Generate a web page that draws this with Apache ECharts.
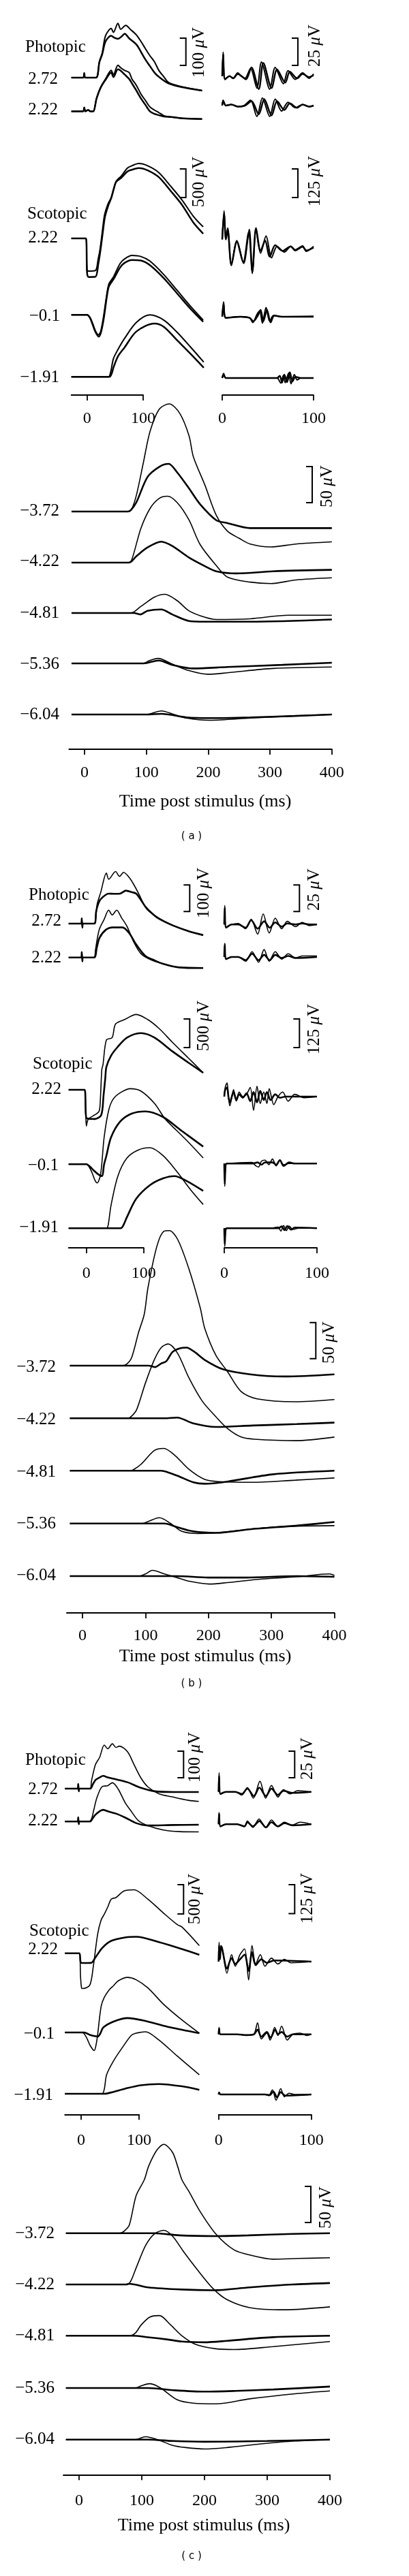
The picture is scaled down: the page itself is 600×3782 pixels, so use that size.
<!DOCTYPE html>
<html>
<head>
<meta charset="utf-8">
<title>ERG traces</title>
<script src="https://cdn.jsdelivr.net/npm/echarts@6.0.0/dist/echarts.min.js"></script>
<style>
  html, body { margin: 0; padding: 0; background: #fff; }
  #main { width: 600px; height: 3782px; }
</style>
</head>
<body>
<div id="main"></div>
<script>
// ---- labels and ticks ----
var PHOT_LEVELS = ['2.72', '2.22'];
var SCOT_LEVELS = ['2.22', '\u22120.1', '\u22121.91'];
var DIM_LEVELS = ['\u22123.72', '\u22124.22', '\u22124.81', '\u22125.36', '\u22126.04'];
var SHORT_TICKS = [0, 100];
var DIM_TICKS = [0, 100, 200, 300, 400];
var PANEL_TAGS = ['( a )', '( b )', '( c )'];
var BAR_UV = { phot: 100, photOp: 25, scot: 500, scotOp: 125, dim: 50 };

// ---- traces: [time ms, amplitude uV], each row = [thin, thick] ----
// panel (a)
var A_PHOT = [
  [[[-28,0],[-7,0],[-5,18],[-3,0],[16,0],[22,62],[27,95],[33,162],[43,190],[47,175],[55,210],[60,187],[69,202],[78,185],[88,165],[96,140],[104,112],[112,85],[120,62],[128,28],[137,3],[145,-18],[160,-30],[180,-40],[205,-50]],
   [[-28,0],[-7,0],[-5,18],[-3,0],[16,0],[22,60],[27,90],[33,140],[43,162],[48,155],[55,150],[62,160],[67,170],[75,152],[88,128],[96,100],[104,70],[112,45],[120,20],[128,3],[145,-22],[170,-37],[205,-50]]],
  [[[-28,0],[-7,0],[-5,15],[-3,0],[2,5],[6,0],[11,0],[17,50],[24,92],[33,125],[43,158],[47,142],[55,178],[60,168],[67,158],[75,150],[80,125],[88,100],[96,67],[104,42],[112,17],[120,5],[128,-5],[137,-17],[150,-22],[170,-27],[205,-30]],
   [[-28,0],[-7,0],[-5,15],[-3,0],[2,5],[6,0],[11,0],[17,50],[24,90],[33,122],[43,150],[47,132],[55,162],[60,157],[67,142],[75,125],[80,108],[88,80],[96,50],[104,25],[112,0],[120,-10],[128,-15],[137,-20],[150,-22],[170,-27],[205,-30]]]
];
var A_PHOT_OP = [
  [[[0,0],[1,22],[3,-3],[8,0],[12,-2],[17,3],[21,0],[25,-2],[31,7],[38,-11],[43,13],[52,-12],[58,8],[67,-7],[72,5],[80,-3],[88,3],[95,-2],[100,2]],
   [[0,0],[1,20],[3,-3],[8,0],[12,-2],[17,2],[21,0],[26,-3],[32,8],[40,-12],[45,12],[54,-11],[60,6],[69,-6],[74,4],[82,-2],[88,2],[95,-1],[100,1]]],
  [[[0,0],[1,5],[4,0],[10,1],[17,-1],[24,0],[31,5],[38,-10],[44,7],[52,-10],[58,6],[65,-5],[72,3],[80,-2],[88,1],[95,-1],[100,0]],
   [[0,0],[1,4],[4,0],[10,1],[17,-1],[25,0],[32,4],[40,-8],[46,6],[54,-9],[60,4],[68,-4],[74,2],[82,-2],[88,1],[95,-1],[100,0]]]
];
var A_SCOT = [
  [[[-28,0],[-2,0],[0,-560],[3,-570],[15,-560],[20,-350],[23,-200],[27,100],[31,400],[37,595],[43,714],[47,853],[52,1000],[61,1091],[72,1229],[80,1270],[92,1309],[108,1270],[128,1150],[149,913],[169,675],[190,380],[207,202]],
   [[-28,0],[-2,0],[0,-600],[3,-675],[15,-670],[20,-450],[24,-200],[28,100],[32,380],[38,580],[43,700],[47,840],[52,990],[61,1060],[72,1170],[80,1200],[92,1230],[108,1190],[128,1070],[149,830],[169,590],[190,270],[207,83]]],
  [[[-28,0],[0,0],[5,-40],[10,-150],[15,-280],[20,-350],[24,-300],[29,-52],[35,345],[39,543],[47,662],[59,900],[67,979],[80,1039],[96,1020],[112,940],[137,702],[161,424],[185,146],[207,-90]],
   [[-28,0],[0,0],[5,-50],[10,-170],[15,-300],[21,-380],[25,-300],[30,-52],[35,300],[39,500],[47,620],[59,830],[67,910],[80,960],[96,950],[112,870],[137,640],[161,370],[185,100],[207,-120]]],
  [[[-28,0],[38,0],[42,80],[47,317],[55,476],[67,674],[88,952],[112,1083],[137,991],[161,774],[185,515],[208,257]],
   [[-28,0],[40,0],[44,60],[47,160],[55,357],[67,516],[88,794],[120,932],[137,874],[161,635],[185,397],[208,159]]]
];
var A_SCOT_OP = [
  [[[0,40],[2,165],[4,50],[6,90],[10,-74],[16,35],[23.5,-65],[29.6,84],[33,-109],[37,79],[42,-20],[48,55],[54,-40],[60,10],[68,-15],[75,10],[80,-5],[88,12],[92,-12],[100,10]],
   [[0,40],[2,150],[4,40],[6,80],[10,-70],[16,30],[23,-60],[29,70],[33,-100],[37,90],[42,-10],[47,35],[52,-35],[58,15],[66,-10],[75,10],[80,-8],[88,8],[92,-8],[100,5]]],
  [[[0,0],[1.5,65],[4,-5],[20,0],[30,-5],[33.5,-25],[38,10],[41,25],[44,-28],[48,40],[52,-20],[56,5],[65,0],[100,2]],
   [[0,0],[1.5,55],[4,-5],[20,0],[30,-5],[34,-20],[39,5],[42,30],[45,-20],[49,30],[53,-25],[57,5],[65,0],[100,0]]],
  [[[0,0],[1.5,20],[4,0],[30,0],[60,0],[64,-22],[67,12],[69,-20],[72.8,22],[75.3,-25],[79,15],[82,-8],[86,0],[100,0]],
   [[0,0],[1.5,15],[4,0],[30,0],[60,0],[63,10],[65.5,-20],[68,15],[71,-18],[74,25],[77,-15],[80,5],[86,0],[100,0]]]
];
var A_DIM = [
  [[[-21,0],[70,0],[76,3],[84,23],[95,67],[106,111],[121,142],[137,149],[154,136],[169,105],[176,76],[195,36],[213,-5],[231,-27],[250,-37],[268,-45],[301,-49],[342,-45],[400,-42]],
   [[-21,0],[70,0],[75,2],[84,13],[102,48],[121,62],[136,66],[150,54],[169,32],[187,10],[213,-12],[231,-16],[268,-23],[400,-23]]],
  [[[-21,0],[70,0],[76,3],[91,47],[106,75],[121,89],[134,92],[150,83],[169,59],[187,25],[213,-4],[231,-20],[268,-27],[301,-29],[342,-24],[400,-21]],
   [[-21,0],[72,0],[84,9],[102,21],[124,29],[142,23],[169,7],[195,-5],[213,-12],[246,-15],[305,-12],[400,-10]]],
  [[[-21,0],[75,0],[91,9],[113,22],[130,26],[150,17],[169,3],[195,-6],[213,-9],[268,-8],[330,-3],[400,-3]],
   [[-21,0],[80,0],[90,-2],[102,3],[124,5],[142,-2],[169,-11],[195,-12],[268,-12],[400,-9]]],
  [[[-21,0],[95,0],[105,4],[119,7],[142,-1],[169,-10],[199,-15],[231,-13],[305,-7],[400,-5]],
   [[-21,0],[95,0],[120,4],[142,-2],[176,-7],[231,-5],[320,-2],[400,1]]],
  [[[-21,0],[100,0],[124,5],[145,0],[165,-5],[202,-8],[268,-5],[340,-2],[400,0]],
   [[-21,0],[100,0],[124,1],[165,-4],[202,-5],[268,-4],[340,-2],[400,0]]]
];

// panel (b)
var B_PHOT = [
  [[[-31,0],[-9,0],[-8,20],[-7,-15],[-6,0],[13,0],[19,75],[25,117],[35,190],[39,167],[51,196],[58,178],[65,193],[75,173],[82,150],[92,110],[103,62],[110,45],[127,20],[150,-6],[178,-28],[204,-45]],
   [[-31,0],[-9,0],[-8,20],[-7,-15],[-6,0],[14,0],[17,45],[20,70],[25,92],[39,113],[50,112],[59,113],[69,124],[80,118],[87,113],[95,90],[103,64],[115,38],[127,18],[150,-6],[178,-28],[204,-43]]],
  [[[-31,0],[-9,0],[-8,20],[-7,-15],[-6,0],[13,0],[16,30],[19,70],[23,108],[31,143],[39,178],[45,160],[53,178],[61,151],[71,117],[83,57],[95,15],[111,-7],[134,-24],[160,-37],[204,-40]],
   [[-31,0],[-9,0],[-8,20],[-7,-15],[-6,0],[14,0],[18,35],[23,74],[34,104],[46,113],[63,113],[75,91],[87,49],[103,6],[119,-11],[134,-24],[160,-37],[204,-40]]]
];
var B_PHOT_OP = [
  [[[0,0],[0.5,18],[2,-3],[8,0],[15,1],[23,-4],[29,5],[36,-9],[42,10],[48.5,-8],[55,6],[62,-4],[68,3],[77,-2],[84,2],[92,-1],[100,0]],
   [[0,0],[0.5,16],[2,-3],[8,0],[15,0],[23,-3],[29,4],[36,-4],[43,3],[49,-3],[55,2],[62,-2],[68,1],[77,0],[84,1],[92,0],[100,0]]],
  [[[0,0],[0.5,13],[2,-2],[8,0],[15,0],[23,-4],[30,5],[37,-5],[43,7],[48.5,-4],[55,5],[62,-2],[69,3],[77,-1],[84,1],[100,1]],
   [[0,0],[0.5,12],[2,-2],[8,0],[15,0],[23,-3],[30,3],[37,-3],[43,2],[49,-3],[55,2],[62,-1],[69,1],[77,-1],[100,0]]]
];
var B_SCOT = [
  [[[-31,0],[-3,0],[-1,-450],[0,-635],[2,-540],[5,-496],[15,-437],[22,-380],[24,-250],[27,357],[29,437],[35,872],[45,912],[51,1151],[67,1229],[87,1317],[107,1229],[127,1071],[150,833],[178,556],[204,298]],
   [[-31,0],[-3,0],[-1,-420],[1,-500],[15,-510],[26,-440],[30,-100],[33,200],[35,400],[43,595],[55,753],[71,912],[95,991],[119,912],[150,674],[178,476],[204,298]]],
  [[[-31,0],[0,0],[5,-50],[10,-150],[15,-280],[19,-326],[25,-167],[31,468],[39,944],[47,1142],[61,1261],[77,1321],[95,1280],[119,1063],[138,785],[158,587],[178,388],[204,111]],
   [[-31,0],[0,0],[5,-30],[12,-100],[20,-170],[27,-206],[31,0],[35,150],[43,468],[59,745],[79,884],[103,924],[134,825],[166,587],[204,309]]],
  [[[-31,0],[35,0],[38,50],[43,396],[55,912],[71,1229],[91,1369],[111,1408],[134,1269],[158,991],[182,674],[204,416]],
   [[-31,0],[60,0],[64,40],[71,198],[87,515],[111,753],[134,872],[154,912],[174,833],[204,654]]]
];
var B_SCOT_OP = [
  [[[0,0],[1,40],[3,60],[4.5,0],[6,-40],[10,30],[13,-20],[16,20],[20,0],[24,10],[28,40],[31.6,-60],[35.3,45],[38.8,-30],[42.6,20],[46,-30],[48.5,35],[53.4,-35],[58,0],[63,20],[69,-20],[76,10],[86,-5],[100,0]],
   [[0,0],[1,30],[3,40],[4.5,0],[6,-25],[10,20],[13,-15],[16,10],[20,-5],[24,15],[28,-20],[31.6,20],[35.3,-25],[38.8,25],[42.6,-15],[46,20],[50,-15],[55,10],[60,-5],[66,0],[100,0]]],
  [[[0,0],[0.5,-100],[1.5,-5],[3,0],[30,5],[34,-10],[37,-15],[40,10],[44,15],[48,-5],[52,20],[56,-10],[60,15],[64,-5],[70,0],[100,0]],
   [[0,0],[0.5,-90],[1.5,-5],[3,0],[30,0],[36,5],[40,-5],[44,5],[52,5],[56,-5],[60,15],[64,-10],[70,5],[76,0],[100,0]]],
  [[[0,0],[0.5,-80],[1.5,-5],[3,0],[50,0],[58,5],[61,-12],[64,12],[67,-10],[70,10],[74,-5],[80,0],[100,0]],
   [[0,0],[0.5,-70],[1.5,-5],[3,0],[50,0],[58,0],[62,8],[65,-8],[68,10],[72,-6],[76,3],[100,0]]]
];
var B_DIM = [
  [[[-20,0],[62,0],[70,2],[78,11],[89,46],[98,71],[104,108],[118,165],[129,186],[138,187],[151,175],[169,134],[187,80],[194,52],[212,14],[230,-8],[252,-36],[277,-46],[338,-50],[400,-47]],
   [[-20,0],[105,0],[115,-2],[125,3],[133,6],[143,19],[155,24],[165,25],[178,19],[194,8],[223,-5],[266,-12],[320,-15],[400,-12]]],
  [[[-20,0],[72,0],[78,3],[86,12],[100,49],[114,81],[125,98],[136,103],[151,90],[169,56],[190,24],[212,2],[230,-14],[252,-26],[273,-29],[338,-31],[400,-26]],
   [[-20,0],[130,0],[150,1],[176,-7],[212,-12],[270,-10],[340,-8],[400,-6]]],
  [[[-20,0],[75,0],[80,1],[93,9],[114,28],[129,31],[147,21],[169,2],[194,-12],[216,-15],[270,-16],[338,-13],[400,-10]],
   [[-20,0],[125,0],[135,-2],[151,-7],[176,-16],[194,-18],[230,-15],[302,-5],[400,0]]],
  [[[-20,0],[95,0],[105,3],[122,8],[140,0],[158,-11],[183,-14],[212,-13],[302,-5],[400,-3]],
   [[-20,0],[130,0],[150,-5],[176,-11],[212,-13],[266,-8],[340,-3],[400,2]]],
  [[[-20,0],[90,0],[100,3],[111,8],[130,3],[150,-2],[169,-7],[201,-11],[230,-9],[285,-4],[340,-1],[392,3],[400,1]],
   [[-20,0],[150,0],[200,-2],[260,-2],[340,0],[400,-1]]]
];

// panel (c)
var C_PHOT = [
  [[[-28,0],[-6,0],[-5,18],[-4,-10],[-3,0],[15,0],[18,30],[21,60],[25,92],[32,118],[40,164],[46,150],[54,169],[60,155],[66,160],[80,139],[91,92],[103,41],[115,7],[134,-19],[157,-31],[185,-44],[203,-48]],
   [[-28,0],[-6,0],[-5,18],[-4,-10],[-3,0],[16,0],[20,15],[25,33],[32,42],[38,48],[46,42],[56,37],[80,24],[103,3],[127,-10],[160,-13],[203,-13]]],
  [[[-28,0],[-6,0],[-5,16],[-4,-10],[-3,0],[14,0],[18,10],[22,45],[27,88],[36,131],[46,135],[54,146],[64,122],[76,71],[87,37],[99,3],[115,-15],[142,-32],[170,-38],[203,-39]],
   [[-28,0],[-6,0],[-5,16],[-4,-10],[-3,0],[15,0],[20,12],[24,24],[31,37],[38,44],[48,37],[60,30],[76,15],[95,-6],[115,-15],[160,-13],[203,-12]]]
];
var C_PHOT_OP = [
  [[[0,0],[0.5,18],[2,-2],[8,0],[18,0],[25,-3],[31,4],[37.5,-6],[44.6,10],[50.7,-6],[57,6],[64,-5],[70,2],[77,-2],[85,1],[100,0]],
   [[0,0],[0.5,15],[2,-2],[8,0],[18,0],[25,-2],[31,3],[38,-4],[44,4],[51,-4],[57,3],[64,-3],[70,1],[80,-1],[100,0]]],
  [[[0,0],[0.5,11],[2,-2],[8,0],[20,0],[28,-2],[31,3],[37,-3],[43.6,5],[50.7,-3],[57,4],[64,-2],[71,2],[79,-1],[88,2],[100,0]],
   [[0,0],[0.5,10],[2,-2],[8,0],[20,0],[28,-2],[31,2],[37,-2],[44,3],[51,-3],[57,2],[64,-2],[71,1],[80,-1],[100,0]]]
];
var C_SCOT = [
  [[[-28,0],[-3,0],[-1,-400],[1,-600],[3,-603],[15,-543],[21,-226],[28.6,330],[34.5,567],[40,666],[46,790],[52,925],[60,950],[74,1064],[91,1083],[115,925],[142,687],[166,488],[174,449],[204,131]],
   [[-28,0],[-3,0],[-1,-150],[2,-167],[17,-165],[25,-67],[36.5,92],[52,211],[76,270],[95,282],[134,190],[174,71],[204,-27]]],
  [[[-28,0],[0,0],[5,-20],[10,-100],[16,-230],[22.7,-309],[26,-200],[28.6,-30],[34.5,444],[40,600],[48,722],[56,800],[64,881],[80,940],[95,900],[115,762],[142,484],[170,246],[204,-12]],
   [[-28,0],[5,0],[15,-40],[25,-65],[29,-71],[33,-20],[38.4,87],[56,187],[80,246],[115,187],[154,87],[204,-12]]],
  [[[-28,0],[36,0],[40,80],[44,325],[56,563],[72,801],[87,1000],[97,1039],[111,1059],[134,920],[166,643],[204,325]],
   [[-28,0],[40,0],[55,30],[76,87],[103,146],[134,166],[174,127],[204,67]]]
];
var C_SCOT_OP = [
  [[[0,0],[0.5,84],[1.5,20],[2.5,70],[4,60],[9,-50],[14,30],[18,-20],[23,30],[28,55],[32.4,-79],[36,70],[40,-10],[45,30],[50,-20],[57,15],[64,-10],[71,10],[78,-5],[100,0]],
   [[0,0],[0.5,70],[1.5,10],[2.5,60],[4,50],[9,-30],[14,15],[18,-10],[23,10],[28,30],[32.4,-40],[36,40],[40,-15],[46,10],[52,-5],[60,5],[100,0]]],
  [[[0,0],[0.5,30],[2,0],[20,0],[30,-5],[38,0],[42,50],[46,-20],[52,5],[55.6,-25],[60.5,30],[64,-5],[68,35],[74,-25],[80,0],[88,5],[95,-5],[100,0]],
   [[0,0],[0.5,25],[2,0],[20,0],[30,-3],[38,0],[42,20],[46,-10],[52,10],[56,-15],[61,20],[64,0],[68,10],[74,-10],[80,0],[100,0]]],
  [[[0,0],[0.5,10],[2,0],[50,0],[54,-5],[58,20],[62,-25],[67,25],[71,-10],[76,5],[82,0],[100,0]],
   [[0,0],[0.5,8],[2,0],[50,0],[55,-3],[59,12],[63,-12],[67,10],[72,-5],[100,0]]]
];
var C_DIM = [
  [[[-21,0],[65,0],[72,3],[80,11],[91,52],[104,74],[111,93],[124,115],[135,123],[149,112],[157,93],[164,74],[175,58],[193,30],[218,-1],[247,-23],[276,-31],[309,-36],[350,-35],[400,-34]],
   [[-21,0],[120,0],[160,-3],[218,-4],[270,-3],[340,-1],[400,0]]],
  [[[-21,0],[75,0],[82,4],[91,23],[106,54],[120,70],[135,75],[149,67],[167,45],[189,20],[214,-6],[236,-21],[272,-32],[327,-35],[400,-31]],
   [[-21,0],[75,0],[80,1],[110,-4],[164,-7],[214,-8],[272,-4],[340,0],[400,2]]],
  [[[-21,0],[80,0],[90,4],[99,15],[113,26],[128,28],[146,15],[164,0],[186,-12],[218,-18],[247,-19],[309,-15],[400,-8]],
   [[-21,0],[85,0],[110,-2],[140,-5],[164,-8],[200,-9],[236,-7],[309,-2],[400,0]]],
  [[[-21,0],[90,0],[99,3],[113,6],[130,0],[156,-16],[182,-21],[218,-22],[272,-15],[344,-8],[400,-4]],
   [[-21,0],[110,0],[150,-3],[200,-5],[250,-4],[310,-2],[400,2]]],
  [[[-21,0],[90,0],[106,4],[125,0],[149,-8],[170,-11],[200,-13],[236,-11],[290,-6],[345,-2],[400,0]],
   [[-21,0],[110,0],[150,-2],[200,-3],[300,-2],[400,0]]]
];

// ---- page layout (pixels) ----
var LAYOUT = [
  { data: [A_PHOT, A_PHOT_OP, A_SCOT, A_SCOT_OP, A_DIM], w: [2.0, 2.5], dimW: [1.6, 2.6],
    l: { x0: 127.7, k: 0.823, t0: -28, t1: 207 }, op: { x0: 326, k: 1.34 },
    phot: { base: [108, 160], s: 0.4 }, photOp: { base: [111.7, 155], s: 1.6 },
    scot: { base: [350, 462.3, 553.3], s: 0.084, axis: 580, margin: 23 }, scotOp: { base: [365, 465, 555], s: 0.336 },
    dim: { x0: 124, k: 0.907, base: [751, 826, 900, 974, 1049], s: 1.06, axis: 1100, margin: 23 },
    bars: { phot: [272.7, 56], photOp: [437, 56], scot: [272.7, 248], scotOp: [437, 248], dim: [458, 685] },
    barText: { phot: [292, 77], photOp: [462, 67], scot: [292, 267], scotOp: [462, 266], dim: [480, 714] },
    photTitle: [37, 69], photLab: [85, [116, 161]], scotTitle: [40, 314], scotLab: [[85, 88, 87], [349, 464, 554]],
    dimLab: [87, [750, 824, 900, 975, 1049]], title: [301, 1177], tag: [281, 1228] },
  { data: [B_PHOT, B_PHOT_OP, B_SCOT, B_SCOT_OP, B_DIM], w: [1.6, 2.6], dimW: [1.6, 2.6],
    l: { x0: 126.7, k: 0.84, t0: -31, t1: 204 }, op: { x0: 329, k: 1.36 },
    phot: { base: [1356, 1405.7], s: 0.39 }, photOp: { base: [1357.3, 1405], s: 1.56 },
    scot: { base: [1600, 1709.3, 1803.3], s: 0.084, axis: 1832, margin: 26 }, scotOp: { base: [1610, 1708.3, 1803.3], s: 0.336 },
    dim: { x0: 121, k: 0.924, base: [2005, 2082.3, 2159.3, 2236.7, 2314], s: 1.06, axis: 2368, margin: 22 },
    bars: { phot: [278.3, 1299.3], photOp: [439.3, 1299.3], scot: [278.3, 1496], scotOp: [439.3, 1496], dim: [463.3, 1941.7] },
    barText: { phot: [299, 1311], photOp: [461.7, 1306], scot: [299, 1506], scotOp: [461.7, 1511], dim: [483.3, 1971] },
    photTitle: [42, 1314], photLab: [90, [1352, 1406]], scotTitle: [48, 1562], scotLab: [[90, 86, 86], [1599, 1711, 1802]],
    dimLab: [82, [2007, 2084, 2161, 2237, 2313]], title: [301, 2432], tag: [281, 2472] },
  { data: [C_PHOT, C_PHOT_OP, C_SCOT, C_SCOT_OP, C_DIM], w: [1.6, 2.6], dimW: [1.6, 2.6],
    l: { x0: 119, k: 0.85, t0: -28, t1: 204 }, op: { x0: 320.7, k: 1.36 },
    phot: { base: [2626, 2674.3], s: 0.39 }, photOp: { base: [2630.7, 2678.3], s: 1.56 },
    scot: { base: [2867.7, 2984, 3074], s: 0.086, axis: 3104.3, margin: 26 }, scotOp: { base: [2880, 2986.7, 3075], s: 0.34 },
    dim: { x0: 116, k: 0.92, base: [3278.7, 3354, 3429.3, 3506, 3581.7], s: 1.06, axis: 3633.3, margin: 26 },
    bars: { phot: [269.3, 2571], photOp: [432.3, 2571], scot: [269.3, 2767], scotOp: [432.3, 2767], dim: [456, 3210] },
    barText: { phot: [286.7, 2580], photOp: [451.7, 2582], scot: [286.7, 2788], scotOp: [451.7, 2787], dim: [478.3, 3241] },
    photTitle: [37, 2584], photLab: [85, [2627, 2673]], scotTitle: [43, 2835], scotLab: [[85, 80, 78], [2862, 2986, 3076]],
    dimLab: [80, [3279, 3354, 3429, 3506, 3581]], title: [299, 3708], tag: [281, 3753] }
];

var INK = '#000';
var SERIF = '"Liberation Serif", "DejaVu Serif", serif';
var grids = [], xAxes = [], yAxes = [], series = [], graphics = [];

function addGrid(left, width, top, height, xmin, xmax, s, xExtra) {
  var i = grids.length;
  grids.push({ left: left, top: top, width: width, height: height });
  var xa = { type: 'value', gridIndex: i, min: xmin, max: xmax, show: false, splitLine: { show: false } };
  if (xExtra) Object.assign(xa, xExtra);
  xAxes.push(xa);
  yAxes.push({ type: 'value', gridIndex: i, min: -height / s, max: 0, show: false, splitLine: { show: false } });
  return i;
}

function timeAxis(ticks, margin) {
  return {
    show: true, position: 'bottom',
    axisLine: { show: true, onZero: false, lineStyle: { color: INK, width: 1.8 } },
    axisTick: { show: true, customValues: ticks, length: 8, lineStyle: { color: INK, width: 1.8 } },
    axisLabel: { show: true, customValues: ticks, margin: margin, fontFamily: SERIF, fontSize: 24, color: INK },
    splitLine: { show: false }
  };
}

function addRows(gi, rows, base, top, s, widths) {
  rows.forEach(function (pair, r) {
    var off = -(base[r] - top) / s;
    pair.forEach(function (tr, j) {
      series.push({
        type: 'line', xAxisIndex: gi, yAxisIndex: gi, symbol: 'none', smooth: 0.3, clip: false, silent: true,
        data: tr.map(function (p) { return [p[0], p[1] + off]; }),
        lineStyle: { color: INK, width: widths[j] }
      });
    });
  });
}

function text(x, y, str, align, size) {
  graphics.push({ type: 'text', x: x, y: y, silent: true,
    style: { text: str, fill: INK, fontFamily: SERIF, fontSize: size || 25,
      align: align, verticalAlign: 'middle', textAlign: align, textVerticalAlign: 'middle' } });
}

function scaleBar(pos, len, label, tpos) {
  var x = pos[0], y = pos[1];
  graphics.push({ type: 'polyline', silent: true,
    shape: { points: [[x - 9, y], [x, y], [x, y + len], [x - 9, y + len]] },
    style: { stroke: INK, fill: null, lineWidth: 2 } });
  graphics.push({ type: 'text', x: tpos[0], y: tpos[1], rotation: Math.PI / 2, silent: true,
    style: { text: label + ' {m|\u03bc}V', fill: INK, fontFamily: SERIF, fontSize: 25,
      align: 'center', verticalAlign: 'middle', textAlign: 'center', textVerticalAlign: 'middle',
      rich: { m: { fontFamily: SERIF, fontSize: 25, fontStyle: 'italic', fill: INK } } } });
}

LAYOUT.forEach(function (P, pi) {
  var D = P.data, L = P.l, O = P.op;
  var lLeft = L.x0 + L.t0 * L.k, lWidth = (L.t1 - L.t0) * L.k;

  // photopic traces
  var top = P.phot.base[0] - 120, h = 240;
  var g = addGrid(lLeft, lWidth, top, h, L.t0, L.t1, P.phot.s);
  addRows(g, D[0], P.phot.base, top, P.phot.s, P.w);

  // photopic oscillatory potentials
  top = P.photOp.base[0] - 100; h = 200;
  g = addGrid(O.x0, 100 * O.k, top, h, 0, 100, P.photOp.s);
  addRows(g, D[1], P.photOp.base, top, P.photOp.s, P.w);

  // scotopic traces
  top = P.scot.base[0] - 180; h = P.scot.axis - top;
  g = addGrid(lLeft, lWidth, top, h, L.t0, L.t1, P.scot.s);
  addRows(g, D[2], P.scot.base, top, P.scot.s, P.w);
  // scotopic time axis (only up to 100 ms)
  addGrid(lLeft, (100 - L.t0) * L.k, P.scot.axis - 10, 10, L.t0, 100, 1, timeAxis(SHORT_TICKS, P.scot.margin));

  // scotopic oscillatory potentials with their own axis
  top = P.scotOp.base[0] - 120; h = P.scot.axis - top;
  g = addGrid(O.x0, 100 * O.k, top, h, 0, 100, P.scotOp.s, timeAxis(SHORT_TICKS, P.scot.margin));
  addRows(g, D[3], P.scotOp.base, top, P.scotOp.s, P.w);

  // dim flash series
  var M = P.dim;
  top = M.base[0] - 260; h = M.axis - top;
  g = addGrid(M.x0 - 25 * M.k, 425 * M.k, top, h, -25, 400, M.s, timeAxis(DIM_TICKS, M.margin));
  addRows(g, D[4], M.base, top, M.s, P.dimW);

  // scale bars
  scaleBar(P.bars.phot, BAR_UV.phot * P.phot.s, '100', P.barText.phot);
  scaleBar(P.bars.photOp, BAR_UV.photOp * P.photOp.s, '25', P.barText.photOp);
  scaleBar(P.bars.scot, BAR_UV.scot * P.scot.s, '500', P.barText.scot);
  scaleBar(P.bars.scotOp, BAR_UV.scotOp * P.scotOp.s, '125', P.barText.scotOp);
  scaleBar(P.bars.dim, BAR_UV.dim * M.s, '50', P.barText.dim);

  // text labels
  text(P.photTitle[0], P.photTitle[1], 'Photopic', 'left');
  PHOT_LEVELS.forEach(function (s, i) { text(P.photLab[0], P.photLab[1][i], s, 'right'); });
  text(P.scotTitle[0], P.scotTitle[1], 'Scotopic', 'left');
  SCOT_LEVELS.forEach(function (s, i) { text(P.scotLab[0][i], P.scotLab[1][i], s, 'right'); });
  DIM_LEVELS.forEach(function (s, i) { text(P.dimLab[0], P.dimLab[1][i], s, 'right'); });
  text(P.title[0], P.title[1], 'Time post stimulus (ms)', 'center', 26);
  graphics.push({ type: 'text', x: P.tag[0], y: P.tag[1], silent: true,
    style: { text: PANEL_TAGS[pi], fill: INK, fontFamily: '"DejaVu Sans", sans-serif', fontSize: 15,
      align: 'center', verticalAlign: 'middle', textAlign: 'center', textVerticalAlign: 'middle' } });
});

var chart = echarts.init(document.getElementById('main'));
chart.setOption({
  backgroundColor: '#fff',
  animation: false,
  grid: grids,
  xAxis: xAxes,
  yAxis: yAxes,
  series: series,
  graphic: { elements: graphics }
});
</script>
</body>
</html>
